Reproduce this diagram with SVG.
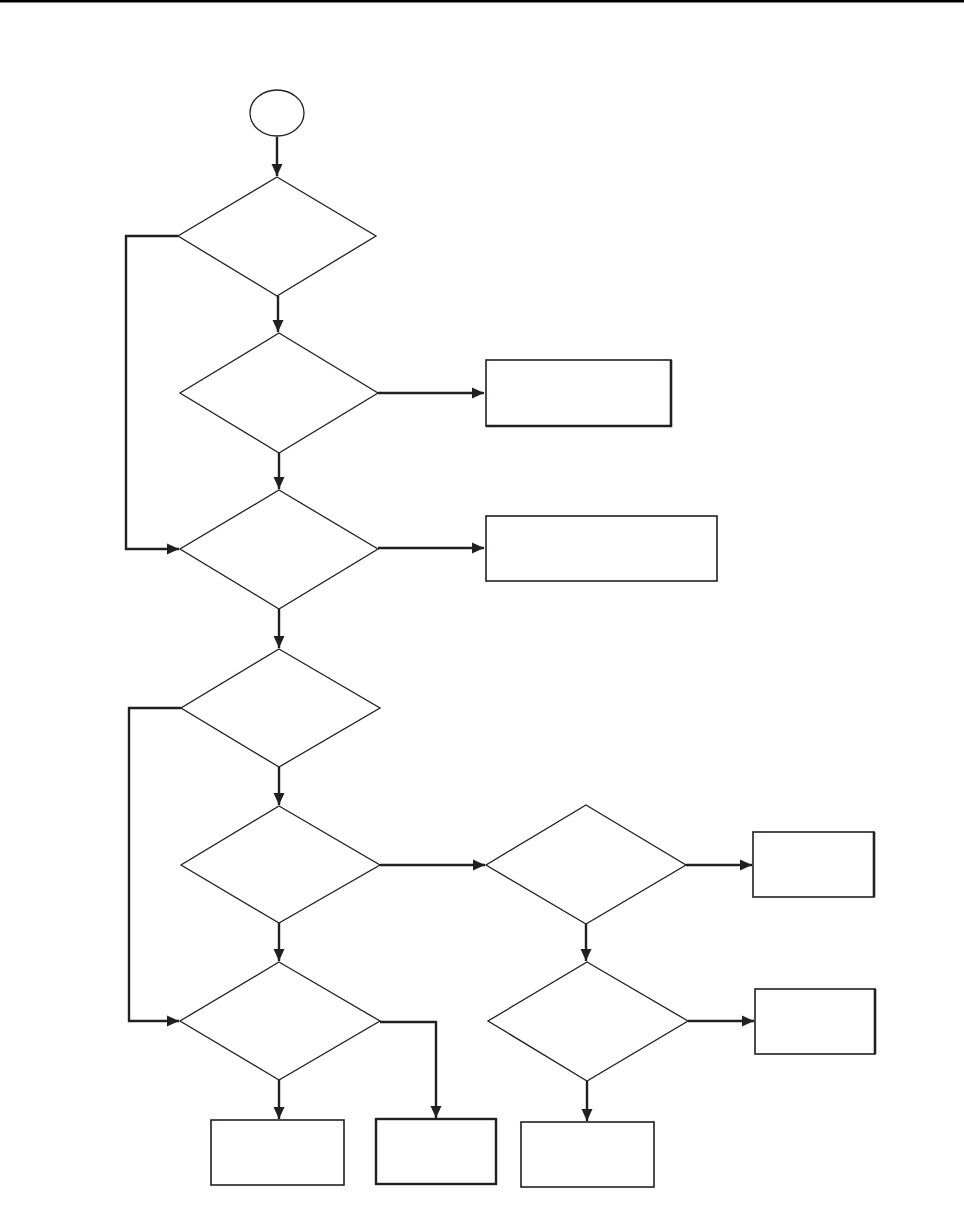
<svg xmlns="http://www.w3.org/2000/svg" width="964" height="1207" viewBox="0 0 964 1207">
<style>
.node{fill:#fff;stroke:#231f20;stroke-width:1.3}
.box{fill:#fff;stroke:#231f20;stroke-width:1.6}
.heavy{stroke-width:2.4}
.edge{fill:none;stroke:#231f20;stroke-width:2.4}
.sh{fill:none;stroke:#231f20;stroke-width:2.6}
</style>
<defs>
<marker id="arr" markerUnits="userSpaceOnUse" markerWidth="14" markerHeight="14" viewBox="0 0 14 14" refX="13" refY="7" orient="auto">
<path d="M1,1.5 L13,7 L1,12.5 Z" fill="#231f20"/>
</marker>
</defs>
<rect x="0" y="0" width="964" height="2.5" fill="#000"/>
<g id="connectors">
<path class="edge" d="M277,137 V176" marker-end="url(#arr)"/>
<path class="edge" d="M278,296 V332" marker-end="url(#arr)"/>
<path class="edge" d="M378,393 H484" marker-end="url(#arr)"/>
<path class="edge" d="M279,453 V489" marker-end="url(#arr)"/>
<path class="edge" d="M378,548 H484" marker-end="url(#arr)"/>
<path class="edge" d="M178,236 H126 V549 H179" marker-end="url(#arr)"/>
<path class="edge" d="M279,609 V648" marker-end="url(#arr)"/>
<path class="edge" d="M279,767 V805" marker-end="url(#arr)"/>
<path class="edge" d="M380,865 H485" marker-end="url(#arr)"/>
<path class="edge" d="M686,865 H752" marker-end="url(#arr)"/>
<path class="edge" d="M586,924 V961" marker-end="url(#arr)"/>
<path class="edge" d="M688,1021 H754" marker-end="url(#arr)"/>
<path class="edge" d="M587,1081 V1121" marker-end="url(#arr)"/>
<path class="edge" d="M279,923 V961" marker-end="url(#arr)"/>
<path class="edge" d="M279,1080 V1119" marker-end="url(#arr)"/>
<path class="edge" d="M380,1022 H436 V1118" marker-end="url(#arr)"/>
<path class="edge" d="M181,708 H129 V1021 H179" marker-end="url(#arr)"/>
</g>
<g id="start"><ellipse class="node" cx="277" cy="113" rx="27" ry="23"/></g>
<g id="d1"><polygon class="node" points="277,177 376,236 277,296 178,236"/></g>
<g id="d2"><polygon class="node" points="279,333 378,393 279,453 180,393"/></g>
<g id="d3"><polygon class="node" points="279,490 378,549 279,609 180,549"/></g>
<g id="d4"><polygon class="node" points="279,649 380,708 279,767 181,708"/></g>
<g id="d5"><polygon class="node" points="279,806 380,865 279,923 181,865"/></g>
<g id="d6"><polygon class="node" points="586,805 686,865 586,924 486,865"/></g>
<g id="d7"><polygon class="node" points="587,962 688,1021 587,1081 488,1021"/></g>
<g id="d8"><polygon class="node" points="279,962 380,1021 279,1080 180,1021"/></g>
<g id="b1"><rect class="box" x="486" y="360" width="185" height="66"/><path class="sh" d="M671,360 V426 H486"/></g>
<g id="b2"><rect class="box" x="486" y="516" width="231" height="65"/></g>
<g id="b3"><rect class="box" x="753" y="832" width="121" height="65"/><path class="sh" d="M874,832 V897"/></g>
<g id="b4"><rect class="box" x="755" y="989" width="120" height="65"/><path class="sh" d="M875,989 V1054"/></g>
<g id="b5"><rect class="box" x="211" y="1120" width="133" height="65"/></g>
<g id="b6"><rect class="box heavy" x="376" y="1119" width="120" height="65"/></g>
<g id="b7"><rect class="box" x="521" y="1122" width="133" height="65"/></g>
</svg>
